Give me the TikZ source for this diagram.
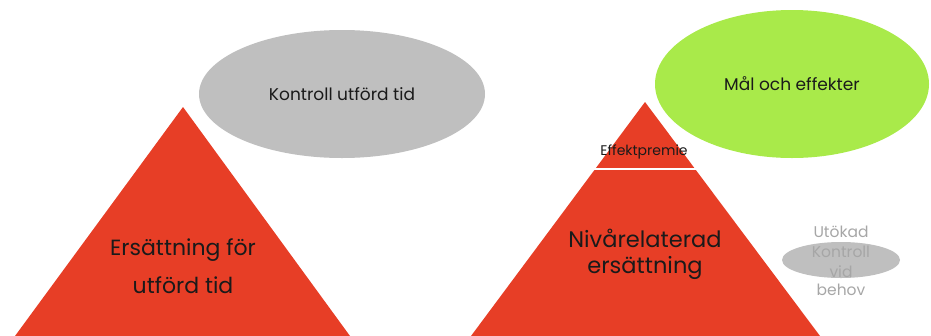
\documentclass[tikz,border=0pt]{standalone}
\usepackage{fontspec}
\setmainfont{Poppins}
\usetikzlibrary{shapes.geometric}
\definecolor{pyrred}{HTML}{E73E26}
\definecolor{ovalgray}{HTML}{BFBFBF}
\definecolor{ovalgreen}{HTML}{A9EA4A}
\definecolor{softgray}{HTML}{A6A6A6}
\definecolor{ink}{HTML}{1A1A1A}
\begin{document}
\begin{tikzpicture}[x=1pt,y=-1pt,
  txt/.style={inner sep=0pt, anchor=base, text=ink},
  bigtxt/.style={txt, font=\fontsize{22}{26}\selectfont},
  oval/.style={ellipse, inner sep=0pt, text=ink, font=\fontsize{17}{20}\selectfont},
  graytxt/.style={inner sep=0pt, anchor=base, text=softgray, font=\fontsize{15.5}{18}\selectfont}]
\useasboundingbox (0,0) rectangle (931,335);

% left pyramid and its oval
\node[oval, fill=ovalgray, minimum width=286pt, minimum height=128pt] (ctrl) at (342,94) {Kontroll utförd tid};
\fill[pyrred] (183,107) -- (350,336) -- (15,336) -- cycle;
\node[bigtxt] (e1) at (183,255) {Ersättning för};
\node[bigtxt] (e2) at (183,293) {utförd tid};

% right pyramid with its top cut off by a white band
\node[oval, fill=ovalgreen, minimum width=274pt, minimum height=148pt] (goal) at (792,84) {Mål och effekter};
\fill[pyrred] (645,102) -- (820,336) -- (471,336) -- cycle;
\draw[white, line width=2.6pt] (585,169) -- (705,169);
\node[txt, font=\fontsize{14}{16}\selectfont] (prem) at (644,155) {Effektpremie};
\node[bigtxt, font=\fontsize{22.5}{26}\selectfont] (n1) at (645,247) {Nivårelaterad};
\node[bigtxt, font=\fontsize{22.5}{26}\selectfont] (n2) at (645,273) {ersättning};

% small oval with extra control text
\node[ellipse, fill=ovalgray, minimum width=118pt, minimum height=36pt, inner sep=0pt] (extra) at (841,260) {};
\node[graytxt] (u1) at (841,237) {Utökad};
\node[graytxt] (u2) at (841,257) {Kontroll};
\node[graytxt] (u3) at (841,277) {vid};
\node[graytxt] (u4) at (841,295) {behov};
\end{tikzpicture}
\end{document}
